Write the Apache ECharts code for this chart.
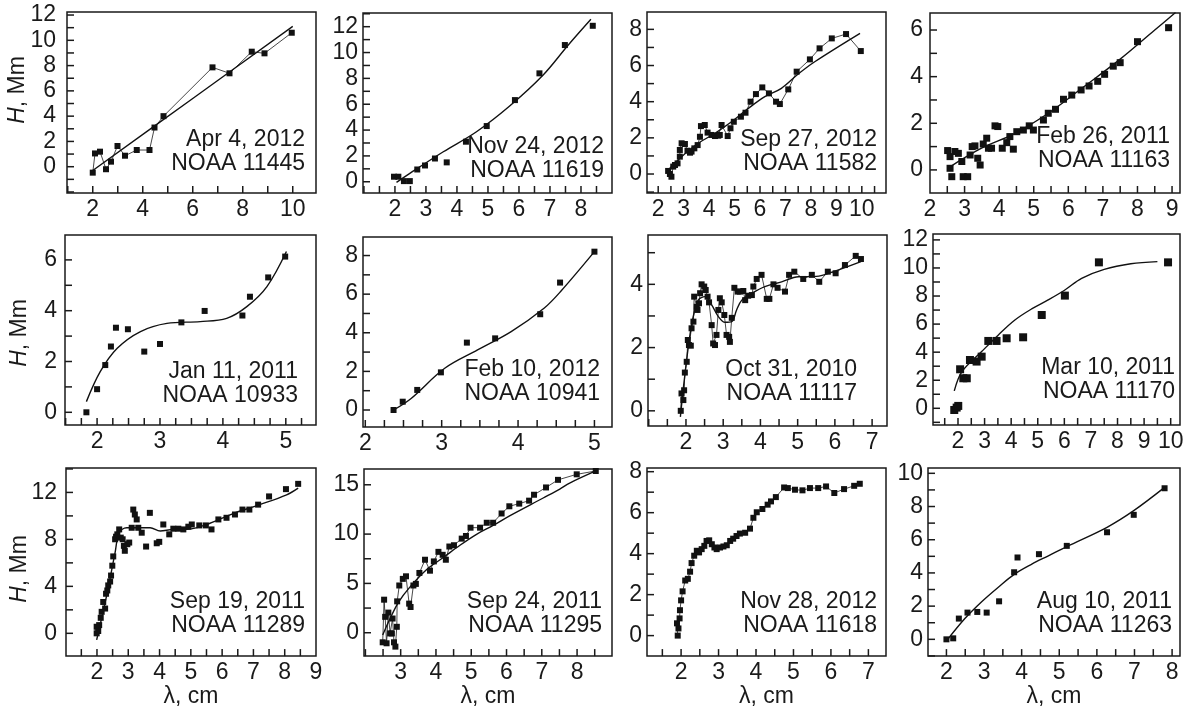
<!DOCTYPE html>
<html><head><meta charset="utf-8">
<script src="https://cdn.jsdelivr.net/npm/echarts@6/dist/echarts.min.js"></script>
<style>html,body{margin:0;padding:0;background:#fff}#c{width:1194px;height:709px}</style>
</head><body><div id="c"></div><script>
// ---------- DATA ----------
const p1Note = ['Apr 4, 2012', 'NOAA 11445'];
const p1XLabels = [2, 4, 6, 8, 10];
const p1YLabels = [0, 2, 4, 6, 8, 10, 12];
const p1Points = [[2.0,-0.47],[2.09,1.05],[2.29,1.19],[2.53,-0.2],[2.73,0.4],[2.99,1.64],[3.29,0.87],[3.76,1.32],[4.27,1.32],[4.47,3.1],[4.83,4.0],[6.79,7.86],[7.47,7.39],[8.36,9.1],[8.87,8.97],[9.96,10.6]];
const p1Fit = [[2.0,-0.3],[6.0,5.4],[10.0,11.1]];

const p2Note = ['Nov 24, 2012', 'NOAA 11619'];
const p2XLabels = [2, 3, 4, 5, 6, 7, 8];
const p2YLabels = [0, 2, 4, 6, 8, 10, 12];
const p2Points = [[1.97,0.39],[2.11,0.39],[2.29,0.05],[2.48,0.05],[2.72,0.95],[2.97,1.26],[3.29,1.8],[3.67,1.5],[4.29,3.1],[4.96,4.31],[5.87,6.32],[6.66,8.39],[7.48,10.58],[8.38,12.07]];
const p2Fit = [[2.05,-0.05],[2.48,0.65],[3.56,2.32],[4.63,3.87],[5.7,5.86],[6.78,8.26],[7.59,10.58],[8.32,12.57]];

const p3Note = ['Sep 27, 2012', 'NOAA 11582'];
const p3XLabels = [2, 3, 4, 5, 6, 7, 8, 9, 10];
const p3YLabels = [0, 2, 4, 6, 8];
const p3Points = [[2.39,0.17],[2.46,0.0],[2.52,-0.15],[2.59,0.41],[2.66,0.5],[2.76,0.59],[2.85,0.96],[2.85,1.33],[2.92,1.7],[3.05,1.66],[3.15,1.29],[3.25,1.18],[3.31,1.24],[3.42,1.42],[3.55,1.6],[3.64,2.06],[3.68,2.65],[3.83,2.71],[3.94,2.29],[4.1,2.16],[4.23,2.1],[4.36,2.12],[4.42,2.16],[4.49,2.71],[4.73,2.1],[4.84,2.53],[4.97,2.89],[5.25,3.17],[5.43,3.39],[5.63,4.0],[5.84,4.42],[6.09,4.79],[6.35,4.46],[6.63,4.0],[6.78,3.87],[7.11,4.68],[7.44,5.66],[7.96,6.34],[8.34,6.95],[8.82,7.5],[9.38,7.74],[9.96,6.8]];
const p3Fit = [[2.39,0.22],[2.92,0.96],[3.57,1.7],[4.23,2.25],[4.88,2.89],[5.54,3.63],[6.19,4.28],[6.84,4.74],[7.5,5.53],[8.15,6.21],[9.93,7.78]];

const p4Note = ['Feb 26, 2011', 'NOAA 11163'];
const p4XLabels = [2, 3, 4, 5, 6, 7, 8, 9];
const p4YLabels = [0, 2, 4, 6];
const p4Points = [[2.51,0.83],[2.58,0.57],[2.58,0.07],[2.63,-0.29],[2.72,0.79],[2.82,0.71],[2.92,0.36],[2.96,-0.29],[3.09,-0.29],[3.16,0.64],[3.22,1.0],[3.3,1.03],[3.38,0.5],[3.45,0.21],[3.54,1.11],[3.64,1.36],[3.69,0.93],[3.78,0.93],[3.88,1.89],[3.96,1.86],[4.09,0.93],[4.22,1.17],[4.31,1.43],[4.41,0.89],[4.51,1.64],[4.7,1.71],[4.87,1.89],[4.99,1.71],[5.28,2.14],[5.42,2.43],[5.63,2.6],[5.86,3.03],[6.1,3.21],[6.37,3.43],[6.6,3.6],[6.85,3.8],[7.05,4.1],[7.3,4.45],[7.5,4.6],[8.0,5.5],[8.9,6.1]];
const p4Fit = [[2.51,0.07],[3.49,0.93],[4.46,1.57],[5.42,2.43],[6.39,3.5],[7.5,4.75],[8.5,6.0],[9.1,6.75]];

const p5Note = ['Jan 11, 2011', 'NOAA 10933'];
const p5XLabels = [2, 3, 4, 5];
const p5YLabels = [0, 2, 4, 6];
const p5Points = [[1.83,0.0],[2.0,0.91],[2.13,1.86],[2.22,2.59],[2.3,3.33],[2.49,3.27],[2.75,2.39],[3.0,2.69],[3.34,3.54],[3.71,3.99],[4.31,3.81],[4.43,4.55],[4.72,5.31],[4.99,6.13]];
const p5Fit = [[1.83,0.42],[2.05,1.6],[2.32,2.52],[2.69,3.18],[3.11,3.5],[3.64,3.57],[4.06,3.7],[4.38,4.16],[4.7,4.95],[5.01,6.33]];

const p6Note = ['Feb 10, 2012', 'NOAA 10941'];
const p6XLabels = [2, 3, 4, 5];
const p6YLabels = [0, 2, 4, 6, 8];
const p6Points = [[2.37,0.0],[2.49,0.43],[2.68,1.04],[2.99,1.95],[3.33,3.49],[3.7,3.71],[4.29,4.96],[4.55,6.6],[5.0,8.2]];
const p6Fit = [[2.37,0.0],[2.6,0.6],[3.04,2.16],[3.47,3.11],[3.91,4.06],[4.34,5.27],[4.56,6.15],[5.0,8.2]];

const p7Note = ['Oct 31, 2010', 'NOAA 11117'];
const p7XLabels = [2, 3, 4, 5, 6, 7];
const p7YLabels = [0, 2, 4];
const p7Points = [[1.86,0.0],[1.88,0.55],[1.93,0.34],[1.95,0.65],[1.97,1.21],[2.02,1.55],[2.05,2.24],[2.08,2.08],[2.13,2.06],[2.15,2.61],[2.2,2.82],[2.22,3.61],[2.29,3.29],[2.31,3.19],[2.35,3.4],[2.38,3.72],[2.42,4.0],[2.49,3.93],[2.53,3.82],[2.58,3.61],[2.62,3.43],[2.69,2.71],[2.73,2.13],[2.78,2.08],[2.82,2.4],[2.87,3.19],[2.91,3.56],[2.96,3.43],[3.03,3.03],[3.09,2.4],[3.16,2.34],[3.18,2.18],[3.23,2.94],[3.3,3.89],[3.39,3.77],[3.45,3.77],[3.54,3.79],[3.59,3.5],[3.67,3.64],[3.77,3.66],[3.81,3.93],[3.9,4.17],[4.03,4.3],[4.17,3.54],[4.24,3.54],[4.35,4.0],[4.46,3.89],[4.66,3.77],[4.77,4.3],[4.91,4.4],[5.15,4.17],[5.38,4.3],[5.58,4.08],[5.81,4.4],[6.02,4.35],[6.27,4.61],[6.56,4.9],[6.7,4.8]];
const p7Fit = [[1.85,-0.19],[1.97,1.13],[2.15,2.71],[2.33,3.5],[2.51,3.61],[2.69,3.35],[2.87,2.98],[3.05,2.8],[3.23,2.82],[3.36,3.19],[3.5,3.5],[3.77,3.72],[4.12,3.93],[4.57,4.08],[5.02,4.24],[5.5,4.25],[6.0,4.42],[6.7,4.72]];

const p8Note = ['Mar 10, 2011', 'NOAA 11170'];
const p8XLabels = [2, 3, 4, 5, 6, 7, 8, 9, 10];
const p8YLabels = [0, 2, 4, 6, 8, 10, 12];
const p8Points = [[1.86,-0.12],[1.95,0.05],[2.01,0.17],[2.08,2.78],[2.2,2.14],[2.33,2.14],[2.45,3.44],[2.7,3.33],[2.89,3.68],[3.14,4.8],[3.45,4.8],[3.83,4.99],[4.45,5.06],[5.15,6.65],[6.02,8.03],[7.3,10.4],[9.9,10.4]];
const p8Fit = [[1.86,1.24],[2.15,2.61],[2.89,4.04],[3.52,5.23],[4.14,6.29],[4.77,7.08],[5.39,7.72],[6.02,8.43],[6.65,9.26],[7.5,9.9],[8.5,10.3],[9.5,10.45]];

const p9Note = ['Sep 19, 2011', 'NOAA 11289'];
const p9XLabels = [2, 3, 4, 5, 6, 7, 8, 9];
const p9YLabels = [0, 4, 8, 12];
const p9Points = [[1.99,0.0],[1.99,0.56],[2.04,0.2],[2.07,0.7],[2.12,1.32],[2.15,1.83],[2.2,2.67],[2.26,2.11],[2.29,3.37],[2.33,3.65],[2.36,4.08],[2.42,4.41],[2.45,4.92],[2.49,5.76],[2.52,6.55],[2.58,8.01],[2.61,8.23],[2.65,8.43],[2.71,8.85],[2.76,8.15],[2.82,8.01],[2.86,7.45],[2.89,7.03],[2.97,7.59],[3.03,7.73],[3.11,8.99],[3.16,10.54],[3.21,10.12],[3.27,9.7],[3.32,8.99],[3.43,8.57],[3.57,7.39],[3.69,10.26],[3.91,7.67],[3.99,7.79],[4.12,9.27],[4.31,8.43],[4.44,8.91],[4.6,8.91],[4.76,8.85],[4.92,9.08],[5.03,9.27],[5.27,9.19],[5.48,9.19],[5.66,8.85],[5.88,9.7],[6.14,9.84],[6.41,10.12],[6.65,10.54],[6.87,10.54],[7.15,10.96],[7.5,11.66],[8.04,12.28],[8.43,12.73]];
const p9Fit = [[1.99,-0.56],[2.31,3.23],[2.58,6.89],[2.71,8.57],[2.95,8.99],[3.38,8.99],[3.7,8.99],[4.02,8.71],[4.44,8.85],[4.87,8.85],[5.5,9.27],[6.35,10.2],[7.2,10.96],[8.06,11.8],[8.43,12.37]];

const p10Note = ['Sep 24, 2011', 'NOAA 11295'];
const p10XLabels = [3, 4, 5, 6, 7, 8, 9];
const p10YLabels = [0, 5, 10, 15];
const p10Points = [[2.49,-0.97],[2.53,3.35],[2.56,1.61],[2.6,-1.07],[2.65,2.04],[2.7,-0.07],[2.75,-0.07],[2.77,1.44],[2.81,-0.97],[2.85,-1.41],[2.89,0.6],[2.9,3.18],[2.96,4.79],[3.06,5.46],[3.15,5.72],[3.24,2.95],[3.28,2.61],[3.36,4.79],[3.43,4.95],[3.53,6.06],[3.69,7.4],[3.83,6.29],[3.94,7.23],[4.07,8.2],[4.19,7.9],[4.28,7.4],[4.38,8.74],[4.51,8.87],[4.73,9.54],[4.85,9.81],[4.98,10.65],[5.25,10.65],[5.44,11.15],[5.62,11.15],[5.86,12.09],[6.08,12.82],[6.36,13.09],[6.64,13.39],[6.78,13.99],[7.12,14.73],[7.46,15.5],[7.99,16.06],[8.53,16.4]];
const p10Fit = [[2.49,-0.23],[2.7,1.44],[2.94,3.11],[3.26,4.62],[3.73,6.39],[4.21,7.63],[4.68,8.87],[5.15,9.98],[5.62,10.88],[6.1,11.88],[7.04,13.66],[7.51,14.56],[7.79,15.17],[8.53,16.4]];

const p11Note = ['Nov 28, 2012', 'NOAA 11618'];
const p11XLabels = [2, 3, 4, 5, 6, 7];
const p11YLabels = [0, 2, 4, 6, 8];
const p11Points = [[1.91,0.0],[1.89,0.6],[1.93,0.35],[1.96,0.84],[1.97,1.24],[2.0,1.72],[2.04,2.16],[2.11,2.69],[2.18,2.77],[2.24,3.12],[2.28,3.54],[2.35,3.9],[2.42,4.14],[2.48,4.06],[2.55,4.22],[2.62,4.38],[2.68,4.62],[2.75,4.65],[2.82,4.46],[2.89,4.3],[2.95,4.22],[3.04,4.3],[3.13,4.35],[3.22,4.41],[3.31,4.62],[3.39,4.73],[3.48,4.86],[3.57,4.98],[3.71,5.02],[3.84,5.22],[3.93,5.75],[4.02,6.02],[4.17,6.18],[4.31,6.39],[4.4,6.55],[4.53,6.76],[4.75,7.23],[4.85,7.2],[5.04,7.12],[5.24,7.09],[5.44,7.2],[5.66,7.2],[5.87,7.28],[6.09,6.96],[6.35,7.15],[6.62,7.31],[6.77,7.41]];

const p12Note = ['Aug 10, 2011', 'NOAA 11263'];
const p12XLabels = [2, 3, 4, 5, 6, 7, 8];
const p12YLabels = [0, 2, 4, 6, 8, 10];
const p12Points = [[2.0,0.0],[2.18,0.06],[2.33,1.25],[2.56,1.61],[2.82,1.65],[3.07,1.61],[3.4,2.29],[3.8,4.04],[3.89,4.93],[4.46,5.13],[5.2,5.63],[6.27,6.45],[6.98,7.5],[7.8,9.1]];
const p12Fit = [[2.0,-0.1],[2.49,1.25],[2.93,2.25],[3.38,3.14],[3.82,3.94],[4.27,4.53],[4.71,5.03],[5.2,5.59],[6.27,6.75],[6.98,7.75],[7.8,9.15]];

const yNames = ['H', ', Mm'];
const xName = 'λ, cm';

// ---------- LAYOUT / STYLE ----------
const FONT = "'Liberation Sans', Arial, Helvetica, sans-serif";
const INK = '#1a1a1a';
const FS = 23;
function steps(a, b, s) { const r = []; for (let v = a; v <= b + 1e-9; v += s) r.push(Math.round(v * 1000) / 1000); return r; }

const panels = [
  {box:[67,12,316,193],  x:[0.97,10.93], y:[-2.08,12.24], xl:p1XLabels, xs:1,   yl:p1YLabels, ys:1,   pts:p1Points, fit:p1Fit, connect:true,  note:p1Note, noteAt:[305,128], ym:11, sym:6},
  {box:[363,13,612,193], x:[0.97,9.0],   y:[-0.87,13.06], xl:p2XLabels, xs:0.5, yl:p2YLabels, ys:1,   pts:p2Points, fit:p2Fit, connect:false, note:p2Note, noteAt:[604,135], ym:5, sym:6},
  {box:[647,12,886,193], x:[1.56,10.95], y:[-1.05,8.96],  xl:p3XLabels, xs:0.5, yl:p3YLabels, ys:1,   pts:p3Points, fit:p3Fit, connect:true,  note:p3Note, noteAt:[877,128], ym:5, sym:6},
  {box:[930,13,1180,193],x:[2.0,9.23],   y:[-0.99,6.73],  xl:p4XLabels, xs:0.5, yl:p4YLabels, ys:1,   pts:p4Points, fit:p4Fit, connect:false, note:p4Note, noteAt:[1170,125], ym:7, sym:7},
  {box:[65,235,316,425], x:[1.49,5.48],  y:[-0.5,6.98],   xl:p5XLabels, xs:0.25,yl:p5YLabels, ys:1,   pts:p5Points, fit:p5Fit, connect:false, note:p5Note, noteAt:[298,360], ym:8, sym:6},
  {box:[363,237,612,427],x:[1.97,5.23],  y:[-0.88,8.96],  xl:p6XLabels, xs:0.25,yl:p6YLabels, ys:1,   pts:p6Points, fit:p6Fit, connect:false, note:p6Note, noteAt:[600,358], ym:5, sym:6},
  {box:[648,235,887,426],x:[0.98,7.4],   y:[-0.48,5.56],  xl:p7XLabels, xs:0.5, yl:p7YLabels, ys:1,   pts:p7Points, fit:p7Fit, connect:true,  note:p7Note, noteAt:[857,358], ym:5, sym:6},
  {box:[933,234,1180,425],x:[1.06,10.35],y:[-1.19,12.42], xl:p8XLabels, xs:0.5, yl:p8YLabels, ys:1,   pts:p8Points, fit:p8Fit, connect:false, note:p8Note, noteAt:[1175,356], ym:5, sym:8},
  {box:[66,468,316,658], x:[1.01,9.0],   y:[-1.94,14.08], xl:p9XLabels, xs:0.5, yl:p9YLabels, ys:2,   pts:p9Points, fit:p9Fit, connect:false, note:p9Note, noteAt:[305,590], ym:9, sym:6},
  {box:[364,469,612,658],x:[1.96,8.99],  y:[-2.37,16.6],  xl:p10XLabels,xs:0.5, yl:p10YLabels,ys:2.5, pts:p10Points,fit:p10Fit,connect:true,  note:p10Note,noteAt:[602,590], ym:5, sym:6},
  {box:[647,468,886,658],x:[1.09,7.47],  y:[-1.0,8.18],   xl:p11XLabels,xs:0.5, yl:p11YLabels,ys:1,   pts:p11Points,fit:null,  connect:true,  note:p11Note,noteAt:[877,590], ym:5, sym:6},
  {box:[928,468,1180,658],x:[1.51,8.21], y:[-1.01,10.32], xl:p12XLabels,xs:0.5, yl:p12YLabels,ys:1,   pts:p12Points,fit:p12Fit,connect:false, note:p12Note,noteAt:[1172,590], ym:5, sym:6}
];
// y-axis title centres for the left column (x, y)
const yNameAt = [[18, 90], [20, 333], [20, 569]];

function tickVals(range, step) {
  const start = Math.ceil(range[0] / step - 1e-9) * step;
  return steps(start, range[1], step).filter(v => v > range[0] + 1e-6 && v < range[1] - 1e-6);
}
const labelStyle = {fontSize: FS, color: INK, fontFamily: FONT};
const TICK_LEN = 7, TICK_W = 1.5;

const option = {
  animation: false,
  backgroundColor: '#fff',
  grid: panels.map(p => ({left: p.box[0], top: p.box[1], width: p.box[2] - p.box[0], height: p.box[3] - p.box[1],
    show: true, borderColor: INK, borderWidth: 1.5, backgroundColor: 'transparent'})),
  xAxis: panels.map((p, i) => ({
    type: 'value', gridIndex: i, min: p.x[0], max: p.x[1], position: 'bottom',
    axisLine: {show: false, onZero: false}, splitLine: {show: false}, axisTick: {show: false},
    axisLabel: Object.assign({customValues: p.xl, margin: 5}, labelStyle),
    name: i >= 8 ? xName : '', nameLocation: 'middle', nameGap: 28, nameTextStyle: labelStyle
  })),
  yAxis: panels.map((p, i) => ({
    type: 'value', gridIndex: i, min: p.y[0], max: p.y[1], position: 'left',
    axisLine: {show: false, onZero: false}, splitLine: {show: false}, axisTick: {show: false},
    axisLabel: Object.assign({customValues: p.yl, margin: p.ym}, labelStyle)
  })),
  series: [],
  graphic: panels.map(p => ({
    type: 'text', x: p.noteAt[0], y: p.noteAt[1], z: 10,
    style: {text: p.note.join('\n'), align: 'right', verticalAlign: 'top', fontSize: FS, fontFamily: FONT, lineHeight: 24, fill: INK}
  })).concat(yNameAt.map(c => ({
    type: 'text', x: c[0], y: c[1], rotation: Math.PI / 2, z: 10,
    style: {text: '{i|' + yNames[0] + '}' + yNames[1], align: 'center', verticalAlign: 'middle',
      fontSize: FS, fontFamily: FONT, fill: INK,
      rich: {i: {fontStyle: 'italic', fontSize: FS, fontFamily: FONT, fill: INK}}}
  })))
};

panels.forEach((p, i) => {
  // inward tick marks on the bottom and left frame edges, placed through the axes' scales
  option.series.push({type: 'scatter', xAxisIndex: i, yAxisIndex: i, silent: true, clip: false, z: 2,
    data: tickVals(p.x, p.xs).map(v => [v, p.y[0]]), symbol: 'rect', symbolSize: [TICK_W, TICK_LEN],
    symbolOffset: [0, -TICK_LEN / 2], itemStyle: {color: INK, opacity: 1}});
  option.series.push({type: 'scatter', xAxisIndex: i, yAxisIndex: i, silent: true, clip: false, z: 2,
    data: tickVals(p.y, p.ys).map(v => [p.x[0], v]), symbol: 'rect', symbolSize: [TICK_LEN, TICK_W],
    symbolOffset: [TICK_LEN / 2, 0], itemStyle: {color: INK, opacity: 1}});
  if (p.connect) {
    option.series.push({type: 'line', xAxisIndex: i, yAxisIndex: i, data: p.pts, symbol: 'rect', symbolSize: p.sym,
      showSymbol: true, showAllSymbol: true, lineStyle: {width: 0.8, color: INK}, itemStyle: {color: '#111', opacity: 1}, z: 3});
  } else {
    option.series.push({type: 'scatter', xAxisIndex: i, yAxisIndex: i, data: p.pts, symbol: 'rect', symbolSize: p.sym,
      itemStyle: {color: '#111', opacity: 1}, z: 3});
  }
  if (p.fit) {
    option.series.push({type: 'line', xAxisIndex: i, yAxisIndex: i, data: p.fit, smooth: 0.35, showSymbol: false,
      lineStyle: {width: 1.4, color: '#111'}, z: 4});
  }
});

const chart = echarts.init(document.getElementById('c'), null, {renderer: 'canvas'});
chart.setOption(option);
</script></body></html>
